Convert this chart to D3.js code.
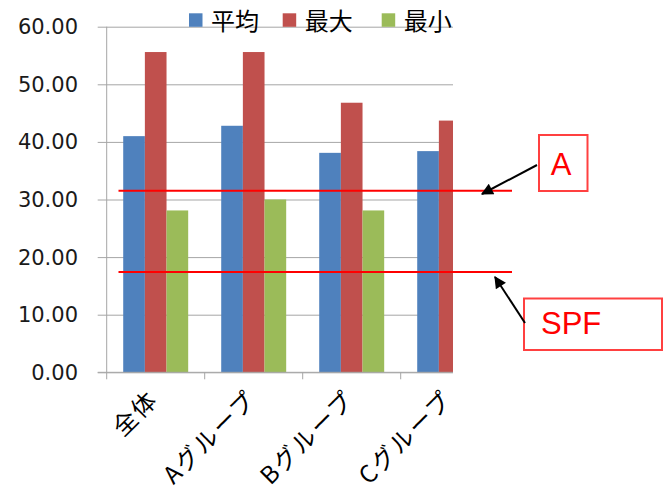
<!DOCTYPE html>
<html>
<head>
<meta charset="utf-8">
<script src="https://cdn.jsdelivr.net/npm/d3@7"></script>
<style>
  body { margin: 0; background: #fff; }
  svg { display: block; }
</style>
</head>
<body>
<svg id="chart" width="671" height="498"></svg>
<script>
// data
const categories = ["全体", "Aグループ", "Bグループ", "Cグループ"]
const seriesNames = ["平均", "最大", "最小"]
const avgValues = [41.0, 42.8, 38.1, 38.4]
const maxValues = [55.6, 55.6, 46.8, 43.7]
const minValues = [28.1, 30.0, 28.1, 28.0]
const colors = ["#4f81bd", "#c0504d", "#9bbb59"]
const yTicks = [0, 10, 20, 30, 40, 50, 60]
const refLines = [{ name: "A", value: 31.5 }, { name: "SPF", value: 17.4 }]

const svg = d3.select("#chart")
const plotLeft = 106.7, plotTop = 26.7, plotH = 345.6, step = 98
const clipRight = 453

const y = d3.scaleLinear().domain([0, 60]).range([plotTop + plotH, plotTop])
const x = d3.scaleBand().domain(categories)
  .range([plotLeft, plotLeft + step * categories.length])
  .paddingInner(0.337).paddingOuter(0.1685)
const xs = d3.scaleBand().domain(seriesNames).range([0, x.bandwidth()])

const defs = svg.append("defs")
defs.append("clipPath").attr("id", "plotClip")
  .append("rect").attr("x", 0).attr("y", 0).attr("width", clipRight).attr("height", 498)
defs.append("marker")
  .attr("id", "arrow").attr("viewBox", "0 0 10 10")
  .attr("refX", 9).attr("refY", 5)
  .attr("markerWidth", 7).attr("markerHeight", 6)
  .attr("markerUnits", "strokeWidth")
  .attr("orient", "auto")
  .append("path").attr("d", "M0,0 L10,5 L0,10 z").attr("fill", "#000")

const plot = svg.append("g").attr("clip-path", "url(#plotClip)")

// y axis with gridlines
const yAxis = plot.append("g")
  .attr("transform", `translate(${plotLeft},0)`)
  .call(d3.axisLeft(y).tickValues(yTicks).tickSize(-(step * 4)).tickSizeOuter(0).tickFormat(""))
yAxis.select(".domain").remove()
yAxis.selectAll(".tick line").attr("stroke", "#a6a6a6").attr("x1", -9)

plot.append("line")
  .attr("x1", plotLeft).attr("x2", plotLeft)
  .attr("y1", plotTop).attr("y2", plotTop + plotH)
  .attr("stroke", "#a6a6a6")

// tick labels (not clipped)
svg.append("g").selectAll("text")
  .data(yTicks).enter().append("text")
  .attr("x", 78).attr("y", d => y(d))
  .attr("dy", "0.36em")
  .attr("text-anchor", "end")
  .attr("font-family", "DejaVu Sans, sans-serif")
  .attr("font-size", 21)
  .attr("fill", "#1a1a1a")
  .text(d3.format(".2f"))

// bars
const rows = categories.map((c, i) => ({ cat: c, vals: [avgValues[i], maxValues[i], minValues[i]] }))
plot.append("g").selectAll("g")
  .data(rows).enter().append("g")
  .attr("transform", d => `translate(${x(d.cat)},0)`)
  .selectAll("rect")
  .data(d => d.vals.map((v, j) => ({ s: seriesNames[j], v: v, c: colors[j] })))
  .enter().append("rect")
  .attr("x", d => xs(d.s))
  .attr("width", xs.bandwidth())
  .attr("y", d => y(d.v))
  .attr("height", d => y(0) - y(d.v))
  .attr("fill", d => d.c)

// x axis line and boundary ticks
const x0 = y(0)
plot.append("line")
  .attr("x1", plotLeft - 9).attr("x2", plotLeft + step * 4)
  .attr("y1", x0).attr("y2", x0)
  .attr("stroke", "#a6a6a6")
plot.append("g").selectAll("line")
  .data(d3.range(categories.length + 1)).enter().append("line")
  .attr("x1", i => plotLeft + i * step).attr("x2", i => plotLeft + i * step)
  .attr("y1", x0).attr("y2", x0 + 7)
  .attr("stroke", "#a6a6a6")

// category labels, rotated
svg.append("g").selectAll("text")
  .data(categories).enter().append("text")
  .attr("transform", d => `translate(${x(d) + x.bandwidth() / 2 + 4},401) rotate(-45)`)
  .attr("text-anchor", "end")
  .attr("font-family", "Noto Sans CJK JP, sans-serif")
  .attr("font-size", 24)
  .attr("letter-spacing", 2)
  .attr("fill", "#000")
  .text(d => d)

// legend
const legend = svg.append("g")
const legX = [189, 282.7, 381.7]
seriesNames.forEach((name, i) => {
  legend.append("rect")
    .attr("x", legX[i]).attr("y", 13.3)
    .attr("width", 13.5).attr("height", 13.5)
    .attr("fill", colors[i])
  legend.append("text")
    .attr("x", legX[i] + 22).attr("y", 29.5)
    .attr("font-family", "Noto Sans CJK JP, sans-serif")
    .attr("font-size", 24)
    .attr("fill", "#000")
    .text(name)
})

// red reference lines
svg.append("g").selectAll("line")
  .data(refLines).enter().append("line")
  .attr("x1", 118.5).attr("x2", 512)
  .attr("y1", d => y(d.value)).attr("y2", d => y(d.value))
  .attr("stroke", "#ff0000").attr("stroke-width", 2)

// callouts
const callouts = [
  { text: "A", box: [539, 135, 48.5, 56], tx: 561, ty: 174.5, from: [537, 165], to: [482, 194] },
  { text: "SPF", box: [524, 298.5, 138, 51.5], tx: 541, ty: 333.5, from: [525, 323], to: [495, 277] }
]
callouts.forEach(c => {
  svg.append("rect")
    .attr("x", c.box[0]).attr("y", c.box[1])
    .attr("width", c.box[2]).attr("height", c.box[3])
    .attr("fill", "#fff")
    .attr("stroke", "#ff4040").attr("stroke-width", 2)
  svg.append("text")
    .attr("x", c.tx).attr("y", c.ty)
    .attr("text-anchor", c.text == "A" ? "middle" : "start")
    .attr("font-family", "Liberation Sans, Arial, sans-serif")
    .attr("font-size", 31)
    .attr("fill", "#ff0000")
    .text(c.text)
  svg.append("line")
    .attr("x1", c.from[0]).attr("y1", c.from[1])
    .attr("x2", c.to[0]).attr("y2", c.to[1])
    .attr("stroke", "#000").attr("stroke-width", 2)
    .attr("marker-end", "url(#arrow)")
})
</script>
</body>
</html>
